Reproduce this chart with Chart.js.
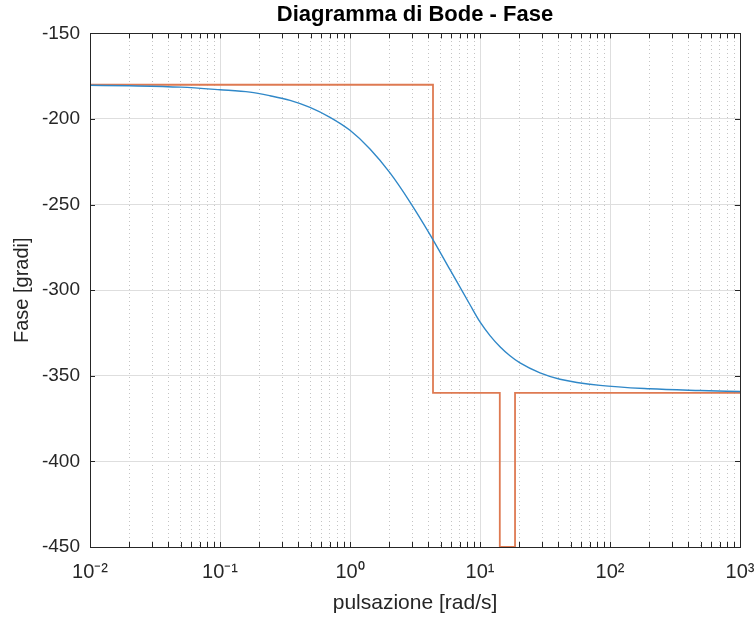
<!DOCTYPE html>
<html>
<head>
<meta charset="utf-8">
<script src="https://cdn.jsdelivr.net/npm/chart.js@4.4.1/dist/chart.umd.min.js"></script>
<style>
  html, body { margin: 0; padding: 0; background: #fff; }
  #wrap { width: 756px; height: 617px; }
</style>
</head>
<body>
<div id="wrap"><canvas id="myChart" width="756" height="617"></canvas></div>
<script>
'use strict';

// Fase della funzione
var omega = [0.01, 0.02, 0.05, 0.1, 0.17, 0.242, 0.346, 0.492, 0.702, 1, 1.425, 2.031, 2.894, 4.125, 5.878, 8.377, 10, 11.94, 14.25, 17.01, 20.31, 28.94, 41.25, 83.77, 203.1, 492.4, 1000];
var fase = [-180.3, -180.6, -181.4, -182.9, -184.3, -186.4, -189.1, -193.2, -199, -206.6, -217.5, -231.5, -248.5, -267.5, -288, -308.5, -318.5, -326.5, -333, -338.3, -342.5, -348.3, -352, -355.6, -357.6, -358.6, -359.2];

// Diagramma asintotico (spezzata)
var omegaAsint = [0.01, 4.35, 4.35, 14.2, 14.2, 18.6, 18.6, 1000];
var faseAsint = [-180, -180, -360, -360, -450, -450, -360, -360];

// Tacche degli assi
var decadi = [0.01, 0.1, 1, 10, 100, 1000];
var decadiLabel = ['10\u207B\u00B2', '10\u207B\u00B9', '10\u2070', '10\u00B9', '10\u00B2', '10\u00B3'];
var yTicks = [-450, -400, -350, -300, -250, -200, -150];

// tacche minori 2..9 per ogni decade
var minori = [];
for (var d = 0; d < decadi.length - 1; d++) {
   for (var k = 2; k <= 9; k++) {
      minori.push(decadi[d] * k);
   }
}

function toXY(xs, ys) {
   var out = [];
   for (var i = 0; i < xs.length; i++) {
      out.push({ x: xs[i], y: ys[i] });
   }
   return out;
}

var axisColor = '#262626';
var fontFamily = '"Liberation Sans", Arial, Helvetica, sans-serif';

// Disegna il riquadro e le tacche interne come in MATLAB
var boxPlugin = {
   id: 'boxTicks',
   afterDatasetsDraw: function (chart) {
      var ctx = chart.ctx;
      var a = chart.chartArea;
      var xs = chart.scales.x;
      var ys = chart.scales.y;
      var len = 5;
      ctx.save();
      ctx.strokeStyle = axisColor;
      ctx.lineWidth = 1;
      ctx.beginPath();
      var allX = decadi.concat(minori);
      for (var i = 0; i < allX.length; i++) {
         var px = Math.round(xs.getPixelForValue(allX[i])) + 0.5;
         ctx.moveTo(px, a.bottom);
         ctx.lineTo(px, a.bottom - len);
         ctx.moveTo(px, a.top);
         ctx.lineTo(px, a.top + len);
      }
      for (var j = 0; j < yTicks.length; j++) {
         var py = Math.round(ys.getPixelForValue(yTicks[j])) + 0.5;
         ctx.moveTo(a.left, py);
         ctx.lineTo(a.left + len, py);
         ctx.moveTo(a.right, py);
         ctx.lineTo(a.right - len, py);
      }
      ctx.stroke();
      ctx.strokeRect(Math.round(a.left) + 0.5, Math.round(a.top) + 0.5,
                     Math.round(a.right - a.left), Math.round(a.bottom - a.top));
      ctx.restore();
   }
};

var ctx = document.getElementById('myChart');
var myChart = new Chart(ctx, {
   type: 'scatter',
   data: {
      datasets: [{
         label: 'fase',
         data: toXY(omega, fase),
         showLine: true,
         cubicInterpolationMode: 'monotone',
         borderColor: '#3088c8',
         borderWidth: 1.4,
         pointRadius: 0,
         fill: false
      }, {
         label: 'asintotico',
         data: toXY(omegaAsint, faseAsint),
         showLine: true,
         tension: 0,
         borderColor: '#de7a52',
         borderWidth: 1.8,
         pointRadius: 0,
         fill: false,
         clip: 4
      }]
   },
   options: {
      responsive: false,
      animation: false,
      events: [],
      layout: { padding: { left: 0, right: 16, top: 0, bottom: 0 } },
      plugins: {
         legend: { display: false },
         tooltip: { enabled: false },
         title: {
            display: true,
            fullSize: false,
            text: 'Diagramma di Bode - Fase',
            color: '#000',
            font: { family: fontFamily, size: 22, weight: 'bold' },
            padding: { top: 2, bottom: 5 }
         }
      },
      scales: {
         x: {
            type: 'logarithmic',
            position: 'bottom',
            min: 0.01,
            max: 1000,
            afterBuildTicks: function (scale) {
               scale.ticks = decadi.map(function (v) { return { value: v, major: true }; });
            },
            afterFit: function (scale) {
               scale.height = 70;
               // le etichette estreme non devono restringere l'area del grafico
               scale.paddingLeft = 0;
               scale.paddingRight = 0;
            },
            ticks: {
               autoSkip: false,
               maxRotation: 0,
               color: axisColor,
               padding: 13,
               font: { family: fontFamily, size: 20 },
               callback: function (value) {
                  var i = decadi.indexOf(value);
                  return i >= 0 ? decadiLabel[i] : '';
               }
            },
            grid: { color: '#dedede', lineWidth: 1, drawTicks: false },
            border: { display: false },
            title: {
               display: true,
               text: 'pulsazione [rad/s]',
               color: axisColor,
               font: { family: fontFamily, size: 21 },
               padding: { top: 0, bottom: 1 }
            }
         },
         xMinor: {
            type: 'logarithmic',
            position: 'top',
            min: 0.01,
            max: 1000,
            afterBuildTicks: function (scale) {
               scale.ticks = minori.map(function (v) { return { value: v }; });
            },
            afterFit: function (scale) {
               scale.height = 0;
               scale.paddingLeft = 0;
               scale.paddingRight = 0;
            },
            ticks: { display: false },
            grid: { color: '#c4c4c4', lineWidth: 1, drawTicks: false },
            border: { display: false, dash: [1, 3] }
         },
         y: {
            type: 'linear',
            min: -450,
            max: -150,
            afterBuildTicks: function (scale) {
               scale.ticks = yTicks.map(function (v) { return { value: v }; });
            },
            afterFit: function (scale) { scale.width = 90; },
            ticks: {
               color: axisColor,
               padding: 10,
               font: { family: fontFamily, size: 19 }
            },
            grid: { color: '#dedede', lineWidth: 1, drawTicks: false },
            border: { display: false },
            title: {
               display: true,
               text: 'Fase [gradi]',
               color: axisColor,
               font: { family: fontFamily, size: 20 },
               padding: { top: 10, bottom: 0 }
            }
         }
      }
   },
   plugins: [boxPlugin]
});
</script>
</body>
</html>
